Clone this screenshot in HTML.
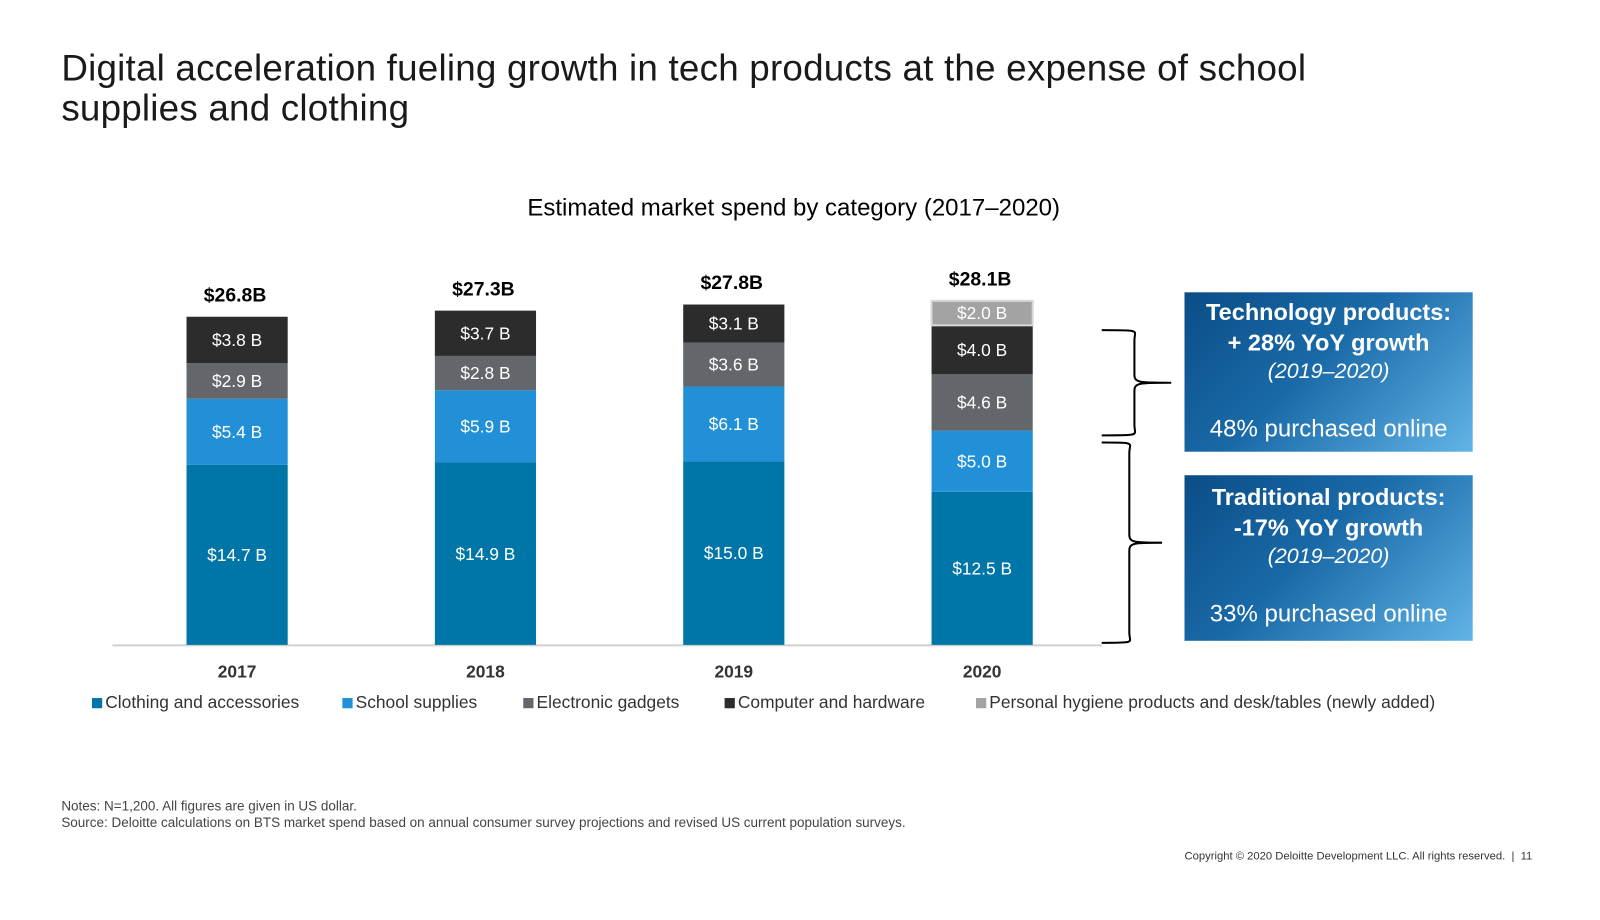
<!DOCTYPE html>
<html><head><meta charset="utf-8"><style>
body{margin:0;width:1600px;height:900px;background:#fff;font-family:"Liberation Sans",sans-serif;position:relative;overflow:hidden}
#wrap{position:absolute;left:0;top:0;width:1600px;height:900px;transform:scale(1.022);transform-origin:0 0}
.t{position:absolute;white-space:nowrap}
.box{position:absolute;left:1159px;width:282px;color:#fff;text-align:center;background:linear-gradient(135deg,#0a4d86 0%,#1a6aa8 45%,#62b4e6 100%)}
</style></head><body><div id="wrap">
<div class="t" style="left:60px;top:47px;font-size:36px;line-height:39px;color:#1a1a1a;letter-spacing:0.2px">Digital acceleration fueling growth in tech products at the expense of school<br>supplies and clothing</div>
<div class="t" style="left:516px;top:190px;font-size:23.5px;color:#000;">Estimated market spend by category (2017–2020)</div>
<svg id="chart" width="1600" height="900" style="position:absolute;left:0;top:0"></svg>
<div class="box" style="top:286px;height:156px;">
<div style="font-weight:bold;font-size:23px;line-height:30px;margin-top:4px">Technology products:<br>+ 28% YoY growth</div>
<div style="font-style:italic;font-size:21px;line-height:28px">(2019–2020)</div>
<div style="font-size:23.5px;margin-top:28px">48% purchased online</div></div>
<div class="box" style="top:465px;height:162px;">
<div style="font-weight:bold;font-size:23px;line-height:30px;margin-top:6px">Traditional products:<br>-17% YoY growth</div>
<div style="font-style:italic;font-size:21px;line-height:28px">(2019–2020)</div>
<div style="font-size:23.5px;margin-top:28px">33% purchased online</div></div>
<div class="t" style="left:60px;top:781px;font-size:13.2px;line-height:16px;color:#444;">Notes: N=1,200. All figures are given in US dollar.<br>Source: Deloitte calculations on BTS market spend based on annual consumer survey projections and revised US current population surveys.</div>
<div class="t" style="left:1159px;top:832px;font-size:11px;color:#333;">Copyright © 2020 Deloitte Development LLC. All rights reserved. &nbsp;| &nbsp;11</div>
</div>
<script>
const years=["2017","2018","2019","2020"];
const clothing=[14.7,14.9,15.0,12.5];
const school=[5.4,5.9,6.1,5.0];
const electronic=[2.9,2.8,3.6,4.6];
const computer=[3.8,3.7,3.1,4.0];
const hygiene=[0,0,0,2.0];
const totals=["$26.8B","$27.3B","$27.8B","$28.1B"];
const seriesNames=["Clothing and accessories","School supplies","Electronic gadgets","Computer and hardware","Personal hygiene products and desk/tables (newly added)"];
const series=[clothing,school,electronic,computer,hygiene];
const colors=["#0076a8","#2290d6","#63666a","#2c2c2c","#a3a3a3"];
const NS="http://www.w3.org/2000/svg";
const svg=document.getElementById('chart');
const base=631,pxPer=11.98,barW=99;
const x=i=>232+i*243;
const y=v=>base-v*pxPer;
function mk(tag,attrs){const e=document.createElementNS(NS,tag);for(const k in attrs)e.setAttribute(k,attrs[k]);svg.appendChild(e);return e;}
const ax=mk('line',{x1:110,x2:1078,y1:base+0.5,y2:base+0.5,stroke:'#d0d0d0','stroke-width':2});


years.forEach((yr,i)=>{
  let cum=0;
  series.forEach((s,j)=>{
    const v=s[i]; if(!v) return;
    const r=mk('rect',{x:x(i)-barW/2,y:y(cum+v),width:barW,height:v*pxPer,fill:colors[j]});
    if(j===4){r.setAttribute('stroke','#d8d8d8');r.setAttribute('stroke-width','2');}
    
    
    const t=mk('text',{x:x(i),y:y(cum+v/2)+6,'text-anchor':'middle','font-size':17,fill:'#fff'});
    t.textContent='$'+v.toFixed(1)+' B';
    
    
    cum+=v;
  });
  const tt=mk('text',{x:x(i)-2,y:y(cum)-15,'text-anchor':'middle','font-size':19,'font-weight':'bold',fill:'#000'});
  tt.textContent=totals[i];
  
  
  const yl=mk('text',{x:x(i),y:663,'text-anchor':'middle','font-size':17,'font-weight':'bold',fill:'#333'});
  yl.textContent=yr;
  
  
});
const lx=[90,335,512,709,955];
seriesNames.forEach((n,j)=>{
  const r=mk('rect',{x:lx[j],y:683,width:10,height:10,fill:colors[j]});
  
  
  const t=mk('text',{x:lx[j]+13,y:693,'font-size':17,fill:'#333'});
  t.textContent=n;
  
  
});
function brace(y1,y2,xL,xM,xT){
  const m=(y1+y2)/2;
  return `M${xL},${y1} C${xM+8},${y1} ${xM},${y1} ${xM},${y1+10} L${xM},${m-8} C${xM},${m} ${xM+5},${m} ${xT},${m} C${xM+5},${m} ${xM},${m} ${xM},${m+8} L${xM},${y2-10} C${xM},${y2} ${xM+8},${y2} ${xL},${y2}`;
}
const b1=mk('path',{d:brace(323,426,1078,1110,1146),fill:'none',stroke:'#000','stroke-width':2});


const b2=mk('path',{d:brace(433,629,1078,1105,1137),fill:'none',stroke:'#000','stroke-width':2});


</script>
</body></html>
